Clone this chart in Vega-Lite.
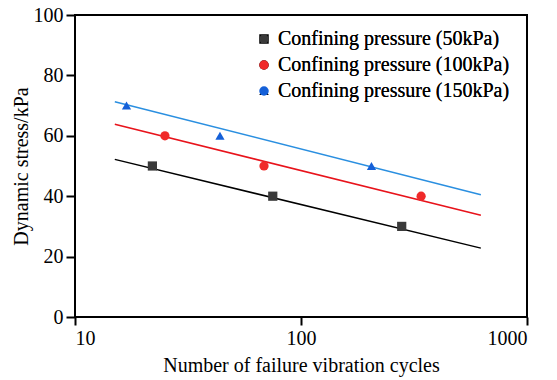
{
  "$schema": "https://vega.github.io/schema/vega-lite/v6.json",
  "autosize": "none",
  "width": 452,
  "height": 302,
  "padding": {"left": 75, "top": 15, "right": 30, "bottom": 63},
  "background": "white",
  "config": {
    "font": "Liberation Serif",
    "view": {"stroke": "black", "strokeWidth": 2},
    "axis": {"grid": false, "ticks": true, "domain": false, "tickColor": "#000000", "tickWidth": 2, "tickOpacity": 1, "labelColor": "black", "titleColor": "black", "labelFont": "Liberation Serif", "titleFont": "Liberation Serif", "labelFontSize": 20, "titleFontSize": 20, "titleFontWeight": "normal"}
  },
  "datasets": {
    "pts": [
      {"cycles": 22, "stress": 50, "series": "Confining pressure (50kPa)"},
      {"cycles": 75, "stress": 40, "series": "Confining pressure (50kPa)"},
      {"cycles": 279, "stress": 30, "series": "Confining pressure (50kPa)"},
      {"cycles": 25, "stress": 60, "series": "Confining pressure (100kPa)"},
      {"cycles": 68.6, "stress": 50, "series": "Confining pressure (100kPa)"},
      {"cycles": 340, "stress": 40, "series": "Confining pressure (100kPa)"},
      {"cycles": 16.9, "stress": 70, "series": "Confining pressure (150kPa)"},
      {"cycles": 43.8, "stress": 60, "series": "Confining pressure (150kPa)"},
      {"cycles": 205, "stress": 50, "series": "Confining pressure (150kPa)"}
    ],
    "fits": [
      {"cycles": 15, "stress": 52.2, "series": "Confining pressure (50kPa)"},
      {"cycles": 625, "stress": 22.8, "series": "Confining pressure (50kPa)"},
      {"cycles": 15, "stress": 63.8, "series": "Confining pressure (100kPa)"},
      {"cycles": 625, "stress": 33.7, "series": "Confining pressure (100kPa)"},
      {"cycles": 15, "stress": 71.3, "series": "Confining pressure (150kPa)"},
      {"cycles": 625, "stress": 40.5, "series": "Confining pressure (150kPa)"}
    ]
  },
  "layer": [
    {
      "data": {"name": "fits"},
      "mark": {"type": "line", "strokeWidth": 1.5},
      "encoding": {
        "x": {"field": "cycles", "type": "quantitative", "scale": {"type": "log", "domain": [10, 1000]}},
        "y": {"field": "stress", "type": "quantitative", "scale": {"domain": [0, 100]}},
        "color": {"field": "series", "type": "nominal", "legend": null,
          "scale": {"domain": ["Confining pressure (50kPa)", "Confining pressure (100kPa)", "Confining pressure (150kPa)"], "range": ["#000000", "#e8131b", "#2a8fe0"]}}
      }
    },
    {
      "data": {"name": "pts"},
      "mark": {"type": "point", "filled": true, "opacity": 1, "size": 85},
      "encoding": {
        "x": {"field": "cycles", "type": "quantitative",
          "scale": {"type": "log", "domain": [10, 1000]},
          "title": "Number of failure vibration cycles",
          "axis": {"values": [10, 100, 1000], "format": "d", "tickSize": 8, "labelPadding": 3, "titlePadding": 7}},
        "y": {"field": "stress", "type": "quantitative", "scale": {"domain": [0, 100]},
          "title": "Dynamic stress/kPa",
          "axis": {"values": [0, 20, 40, 60, 80, 100], "tickSize": 9, "labelPadding": 3, "titlePadding": 2}},
        "shape": {"field": "series", "type": "nominal",
          "scale": {"domain": ["Confining pressure (50kPa)", "Confining pressure (100kPa)", "Confining pressure (150kPa)"], "range": ["square", "circle", "triangle-up"]},
          "legend": {"title": null, "orient": "none", "legendX": 179, "legendY": 14, "labelFontSize": 20, "labelFont": "Liberation Serif", "labelColor": "black", "labelLimit": 400, "rowPadding": 6, "labelOffset": 4, "symbolSize": 90}},
        "color": {"field": "series", "type": "nominal",
          "scale": {"domain": ["Confining pressure (50kPa)", "Confining pressure (100kPa)", "Confining pressure (150kPa)"], "range": ["#3a3a3a", "#f02a2a", "#1560d8"]},
          "legend": {"title": null, "orient": "none", "legendX": 179, "legendY": 14, "labelFontSize": 20, "labelFont": "Liberation Serif", "labelColor": "black", "labelLimit": 400, "rowPadding": 6, "labelOffset": 4, "symbolSize": 90}}
      }
    }
  ],
  "resolve": {"scale": {"color": "independent"}}
}
